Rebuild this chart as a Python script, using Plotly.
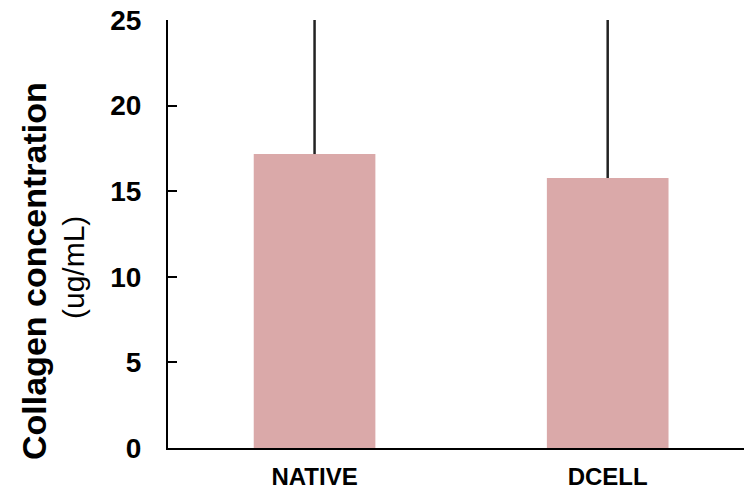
import plotly.graph_objects as go

categories = ["NATIVE", "DCELL"]
values = [17.17, 15.77]
errors_up = [10.0, 11.0]
y_ticks = [0, 5, 10, 15, 20, 25]

fig = go.Figure()
fig.add_trace(go.Bar(
    x=categories,
    y=values,
    marker=dict(color="#daa9a9", line=dict(width=0)),
    error_y=dict(type="data", symmetric=False, array=errors_up,
                 arrayminus=[0] * len(values), color="#222222",
                 thickness=2.5, width=0),
    width=0.415,
    hoverinfo="skip",
))

W, H = 744, 490
L, R, T, B = 168, 0, 20, 42
pw, ph = W - L - R, H - T - B

def px_x(px):
    return (px - L) / pw

def px_y(py):
    return (H - B - py) / ph

FONT = "Liberation Sans, Arial, sans-serif"

fig.update_layout(
    width=W, height=H,
    margin=dict(l=L, r=R, t=T, b=B, pad=0, autoexpand=False),
    plot_bgcolor="white", paper_bgcolor="white",
    showlegend=False,
    font=dict(family=FONT, color="black"),
    xaxis=dict(
        range=[-0.5, 1.465], automargin=False,
        showline=True, linecolor="black", linewidth=2,
        ticks="", showgrid=False, zeroline=False,
        tickfont=dict(size=24, family=FONT, weight="bold"),
        ticklabelstandoff=6,
    ),
    yaxis=dict(
        range=[0, 25], automargin=False,
        tickvals=y_ticks,
        showline=True, linecolor="black", linewidth=2,
        ticks="inside", ticklen=9, tickwidth=2, tickcolor="black",
        showgrid=False, zeroline=False,
        tickfont=dict(size=28, family=FONT, weight="bold"),
        ticklabelstandoff=19,
    ),
    annotations=[
        dict(text="<b>Collagen concentration</b>", textangle=-90,
             xref="paper", yref="paper", x=px_x(34), y=px_y(271),
             xanchor="center", yanchor="middle", showarrow=False,
             font=dict(size=34, family=FONT)),
        dict(text="(ug/mL)", textangle=-90,
             xref="paper", yref="paper", x=px_x(73), y=px_y(268),
             xanchor="center", yanchor="middle", showarrow=False,
             font=dict(size=30, family=FONT)),
    ],
)

fig.write_html("out.html",
               config={"displayModeBar": False},
               post_script="document.body.style.margin='0';document.body.style.overflow='hidden';")
